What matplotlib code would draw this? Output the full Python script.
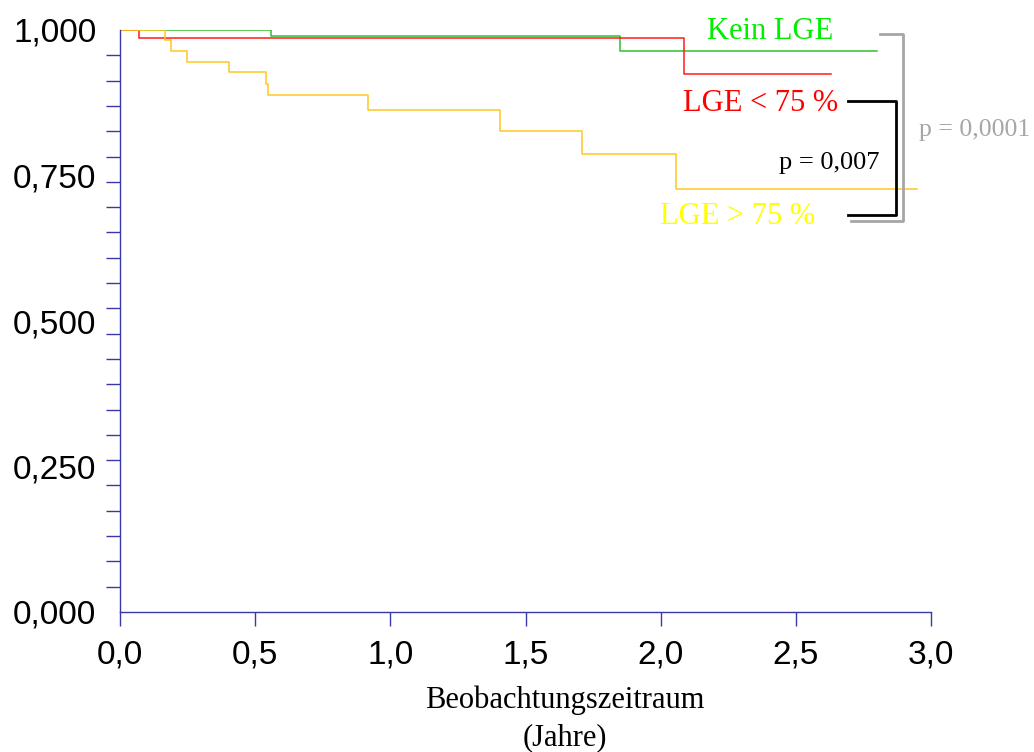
import numpy as np
import matplotlib
matplotlib.use("Agg")
from matplotlib import pyplot as plt

# Kaplan-Meier step data (time in years, survival)
kein_x = [0.0, 0.557, 1.849, 2.80]
kein_y = [1.0, 0.990, 0.964, 0.964]

lge_lt_x = [0.0, 0.071, 2.087, 2.63]
lge_lt_y = [1.0, 0.986, 0.924, 0.924]

lge_gt_x = [0.0, 0.165, 0.189, 0.248, 0.403, 0.540, 0.546, 0.918, 1.405, 1.708, 2.056, 2.95]
lge_gt_y = [1.0, 0.983, 0.964, 0.945, 0.927, 0.907, 0.888, 0.862, 0.826, 0.787, 0.727, 0.727]

x_ticks = [0.0, 0.5, 1.0, 1.5, 2.0, 2.5, 3.0]
x_labels = ["0,0", "0,5", "1,0", "1,5", "2,0", "2,5", "3,0"]
y_ticks = [0.0, 0.25, 0.5, 0.75, 1.0]
y_labels = ["0,000", "0,250", "0,500", "0,750", "1,000"]

axis_col = "#3838a8"

fig = plt.figure(figsize=(10.34, 7.52), dpi=100)
ax = fig.add_axes([120 / 1034, 140 / 752, 811 / 1034, 582 / 752])

ax.step(kein_x, kein_y, where="post", color="#2fc02f", lw=1.1)
ax.step(lge_lt_x, lge_lt_y, where="post", color="#ff1a1a", lw=1.1)
ax.step(lge_gt_x, lge_gt_y, where="post", color="#ffc820", lw=1.1)

ax.set_xlim(0, 3.0)
ax.set_ylim(0, 1.0)
for s in ["top", "right"]:
    ax.spines[s].set_visible(False)
for s in ["left", "bottom"]:
    ax.spines[s].set_color(axis_col)
    ax.spines[s].set_linewidth(1.0)

ax.set_xticks(x_ticks)
ax.set_xticklabels(x_labels, family="Liberation Sans", fontsize=24)
ax.set_yticks(y_ticks)
ax.set_yticklabels(y_labels, family="Liberation Sans", fontsize=24)
ax.set_yticks(np.linspace(0, 1, 24), minor=True)
ax.tick_params(axis="x", direction="out", length=10, width=1, color=axis_col, pad=10)
ax.tick_params(axis="y", which="major", length=0, pad=17)
ax.tick_params(axis="y", which="minor", direction="out", length=10, width=1, color=axis_col)

serif = "Liberation Serif"
ax.text(2.405, 0.997, "Kein LGE", color="#00ee00", fontsize=22, family=serif,
        ha="center", va="center", clip_on=False)
ax.text(2.656, 0.873, "LGE < 75 %", color="#ff0000", fontsize=22, family=serif,
        ha="right", va="center", clip_on=False)
ax.text(2.571, 0.680, "LGE > 75 %", color="#ffff00", fontsize=22, family=serif,
        ha="right", va="center", clip_on=False)
ax.text(2.811, 0.771, "p = 0,007", color="black", fontsize=19, family=serif,
        ha="right", va="center", clip_on=False)
ax.text(2.956, 0.828, "p = 0,0001", color="#a6a6a6", fontsize=18.5, family=serif,
        ha="left", va="center", clip_on=False)

# brackets
ax.plot([2.693, 2.871, 2.871, 2.693], [0.878, 0.878, 0.682, 0.682],
        color="black", lw=2, clip_on=False)
ax.plot([2.811, 2.897, 2.897, 2.704], [0.993, 0.993, 0.672, 0.672],
        color="#a6a6a6", lw=2, clip_on=False)

fig.text(565 / 1034, 1 - 700 / 752, "Beobachtungszeitraum", family=serif,
         fontsize=22, ha="center", va="center")
fig.text(565 / 1034, 1 - 738 / 752, "(Jahre)", family=serif,
         fontsize=22, ha="center", va="center")

fig.savefig("out.png", dpi=100)
